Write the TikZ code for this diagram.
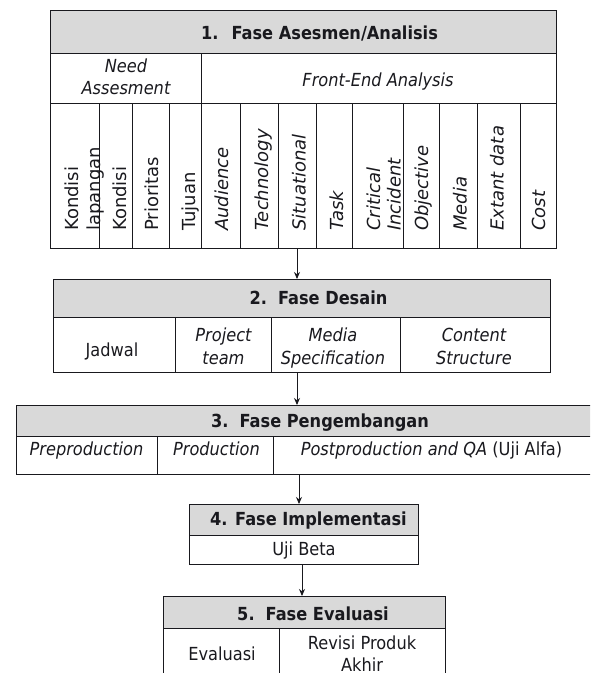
\documentclass[tikz,border=0pt]{standalone}
\usepackage{fontspec}
\setmainfont[FakeStretch=0.9]{DejaVu Sans}
\newfontfamily\vfont{DejaVu Sans}
\usetikzlibrary{arrows.meta}
\definecolor{hdrgray}{RGB}{217,217,217}
\definecolor{ink}{RGB}{25,25,30}
\begin{document}
\begin{tikzpicture}[x=1pt,y=1pt,
  inner/.style={line width=0.9pt, draw=ink},
  frame/.style={line width=1.3pt, draw=ink, inner sep=0pt, anchor=north west},
  hdr/.style={fill=hdrgray},
  htext/.style={font=\fontsize{18}{22}\selectfont\bfseries, text=ink, anchor=base, inner sep=0pt},
  btext/.style={font=\fontsize{18}{23}\selectfont, text=ink, anchor=base, inner sep=0pt},
  itext/.style={font=\fontsize{18}{23}\selectfont\itshape, text=ink, anchor=base, inner sep=0pt},
  vtext/.style={font=\vfont\fontsize{18}{20}\selectfont, text=ink, rotate=90, anchor=base west, inner sep=0pt},
  vitext/.style={vtext, font=\vfont\fontsize{18}{20}\selectfont\itshape},
  arr/.style={line width=0.9pt, draw=ink, -{Stealth[length=7pt,width=6pt]}}
]
\useasboundingbox (0,0) rectangle (590,-673);
\clip (0,0) rectangle (590,-673);

% ---------- Phase 1 ----------
\fill[hdr] (50,-10) rectangle (556,-53);
\draw[inner] (50,-53) -- (556,-53);
\draw[inner] (50,-103) -- (556,-103);
\draw[inner] (201,-53) -- (201,-248);
\foreach \xx in {99,132,169,240,278,316,352,403,439,477,520}
  \draw[inner] (\xx,-103) -- (\xx,-248);
\node[frame, minimum width=506pt, minimum height=238pt] (p1) at (50,-10) {};

\node[htext] (h1) at (319.5,-39) {1.\hspace{13pt}Fase Asesmen/Analisis};
\node[itext] (need1) at (126,-72) {Need};
\node[itext] (need2) at (126,-94) {Assesment};
\node[itext] (fea) at (378,-86) {Front-End Analysis};

\node[vtext] (c1a) at (78.5,-231) {Kondisi};
\node[vtext] (c1b) at (100,-231) {lapangan};
\node[vtext] (c2) at (126,-231) {Kondisi};
\node[vtext] (c3) at (158,-231) {Prioritas};
\node[vtext] (c4) at (195.5,-231) {Tujuan};
\node[vitext] (c5) at (228,-231) {Audience};
\node[vitext] (c6) at (268,-231) {Technology};
\node[vitext] (c7) at (305.5,-231) {Situational};
\node[vitext] (c8) at (343,-231) {Task};
\node[vitext] (c9a) at (380,-231) {Critical};
\node[vitext] (c9b) at (400.5,-231) {Incident};
\node[vitext] (c10) at (428,-231) {Objective};
\node[vitext] (c11) at (466.5,-231) {Media};
\node[vitext] (c12) at (503.5,-231) {Extant data};
\node[vitext] (c13) at (545,-231) {Cost};

% ---------- Phase 2 ----------
\fill[hdr] (53,-279) rectangle (550,-317);
\draw[inner] (53,-317) -- (550,-317);
\foreach \xx in {175,271,400}
  \draw[inner] (\xx,-317) -- (\xx,-372);
\node[frame, minimum width=497pt, minimum height=93pt] (p2) at (53,-279) {};

\node[htext] (h2) at (318.5,-304.5) {2.\hspace{11pt}Fase Desain};
\node[btext] (jad) at (112,-356) {Jadwal};
\node[itext] (pt1) at (223.5,-341.5) {Project};
\node[itext] (pt2) at (223.5,-364.5) {team};
\node[itext] (ms1) at (333,-341.5) {Media};
\node[itext] (ms2) at (333,-364.5) {Specification};
\node[itext] (cs1) at (474,-341.5) {Content};
\node[itext] (cs2) at (474,-364.5) {Structure};

% ---------- Phase 3 ----------
\fill[hdr] (16,-405) rectangle (600,-436);
\draw[inner] (16,-436) -- (600,-436);
\foreach \xx in {157,273.5}
  \draw[inner] (\xx,-436) -- (\xx,-474);
\node[frame, minimum width=584pt, minimum height=69pt] (p3) at (16,-405) {};

\node[htext] (h3) at (320,-427) {3.\hspace{11pt}Fase Pengembangan};
\node[itext] (pre) at (86.5,-455) {Preproduction};
\node[itext] (prod) at (216.5,-455) {Production};
\node[btext] (post) at (431.5,-455) {\itshape Postproduction and QA \upshape(Uji Alfa)};

% ---------- Phase 4 ----------
\fill[hdr] (189,-504) rectangle (418,-535);
\draw[inner] (189,-535) -- (418,-535);
\node[frame, minimum width=229pt, minimum height=60pt] (p4) at (189,-504) {};

\node[htext] (h4) at (308.5,-525) {4. Fase Implementasi};
\node[btext] (beta) at (304,-555.5) {Uji Beta};

% ---------- Phase 5 ----------
\fill[hdr] (163,-596) rectangle (445,-628);
\draw[inner] (163,-628) -- (445,-628);
\draw[inner] (279,-628) -- (279,-700);
\node[frame, minimum width=282pt, minimum height=104pt] (p5) at (163,-596) {};

\node[htext] (h5) at (313,-620) {5.\hspace{11pt}Fase Evaluasi};
\node[btext] (eva) at (222,-660) {Evaluasi};
\node[btext] (rev1) at (362,-649) {Revisi Produk};
\node[btext] (rev2) at (362,-671) {Akhir};

% ---------- Arrows ----------
\coordinate (ax1) at (297,0);
\coordinate (ax2) at (297,0);
\coordinate (ax3) at (299,0);
\coordinate (ax4) at (302,0);
\draw[arr] (p1.south -| ax1) -- (p2.north -| ax1);
\draw[arr] (p2.south -| ax2) -- (p3.north -| ax2);
\draw[arr] (p3.south -| ax3) -- (p4.north -| ax3);
\draw[arr] (p4.south -| ax4) -- (p5.north -| ax4);
\end{tikzpicture}
\end{document}
